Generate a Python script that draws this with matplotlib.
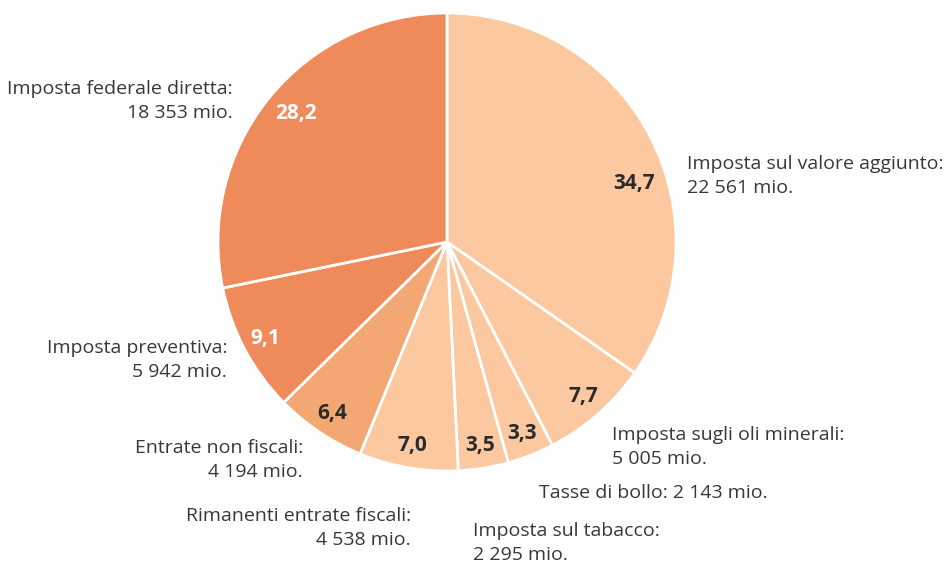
import numpy as np
import matplotlib
matplotlib.use('Agg')
import matplotlib.pyplot as plt

plt.rcParams['font.family'] = ['Open Sans', 'DejaVu Sans']

# revenue items, clockwise from the top
names = ['Imposta sul valore aggiunto', 'Imposta sugli oli minerali', 'Tasse di bollo',
         'Imposta sul tabacco', 'Rimanenti entrate fiscali', 'Entrate non fiscali',
         'Imposta preventiva', 'Imposta federale diretta']
mio = [22561, 5005, 2143, 2295, 4538, 4194, 5942, 18353]
mio_txt = ['22 561', '5 005', '2 143', '2 295', '4 538', '4 194', '5 942', '18 353']

light = '#FBC8A0'
mid = '#F3A874'
dark = '#EF8B5A'
colors = [light, light, light, light, light, mid, dark, dark]
pct_colors = ['#2b2b2b'] * 6 + ['white', 'white']
txt_color = '#383838'

fig = plt.figure(figsize=(9.46, 5.62), dpi=100)
ax = fig.add_axes([0, 0, 1, 1])

wedges, texts, autotexts = ax.pie(mio, colors=colors, startangle=90, counterclock=False,
                                  center=(447, 320), radius=229, pctdistance=0.9,
                                  autopct=lambda p: ('%.1f' % p).replace('.', ','),
                                  wedgeprops=dict(edgecolor='white', linewidth=2))
# pie resets the limits, so put them back to pixel units
ax.set_xlim(0, 946)
ax.set_ylim(0, 562)
ax.set_aspect('auto')
ax.axis('off')

for t, c in zip(autotexts, pct_colors):
    t.set_color(c)
    t.set_fontsize(15)
    t.set_fontweight('bold')
# first slice label sits further round than its mid angle
autotexts[0].set_position((634, 562 - 183))
autotexts[7].set_position((296, 562 - 114))

# outer labels: (x, y of block centre, alignment)
lab_pos = [(687, 176, 'left'), (612, 447, 'left'), (539, 493, 'left'), (473, 543, 'left'),
           (411, 528, 'right'), (303, 460, 'right'), (227, 360, 'right'), (233, 101, 'right')]
for i in range(len(names)):
    x, y, ha = lab_pos[i]
    if names[i] == 'Tasse di bollo':
        s = '%s: %s mio.' % (names[i], mio_txt[i])
    else:
        s = '%s:\n%s mio.' % (names[i], mio_txt[i])
    ax.text(x, 562 - y, s, ha=ha, va='center', multialignment=ha, fontsize=14,
            color=txt_color, linespacing=1.45)

fig.savefig('out.png', dpi=100)
